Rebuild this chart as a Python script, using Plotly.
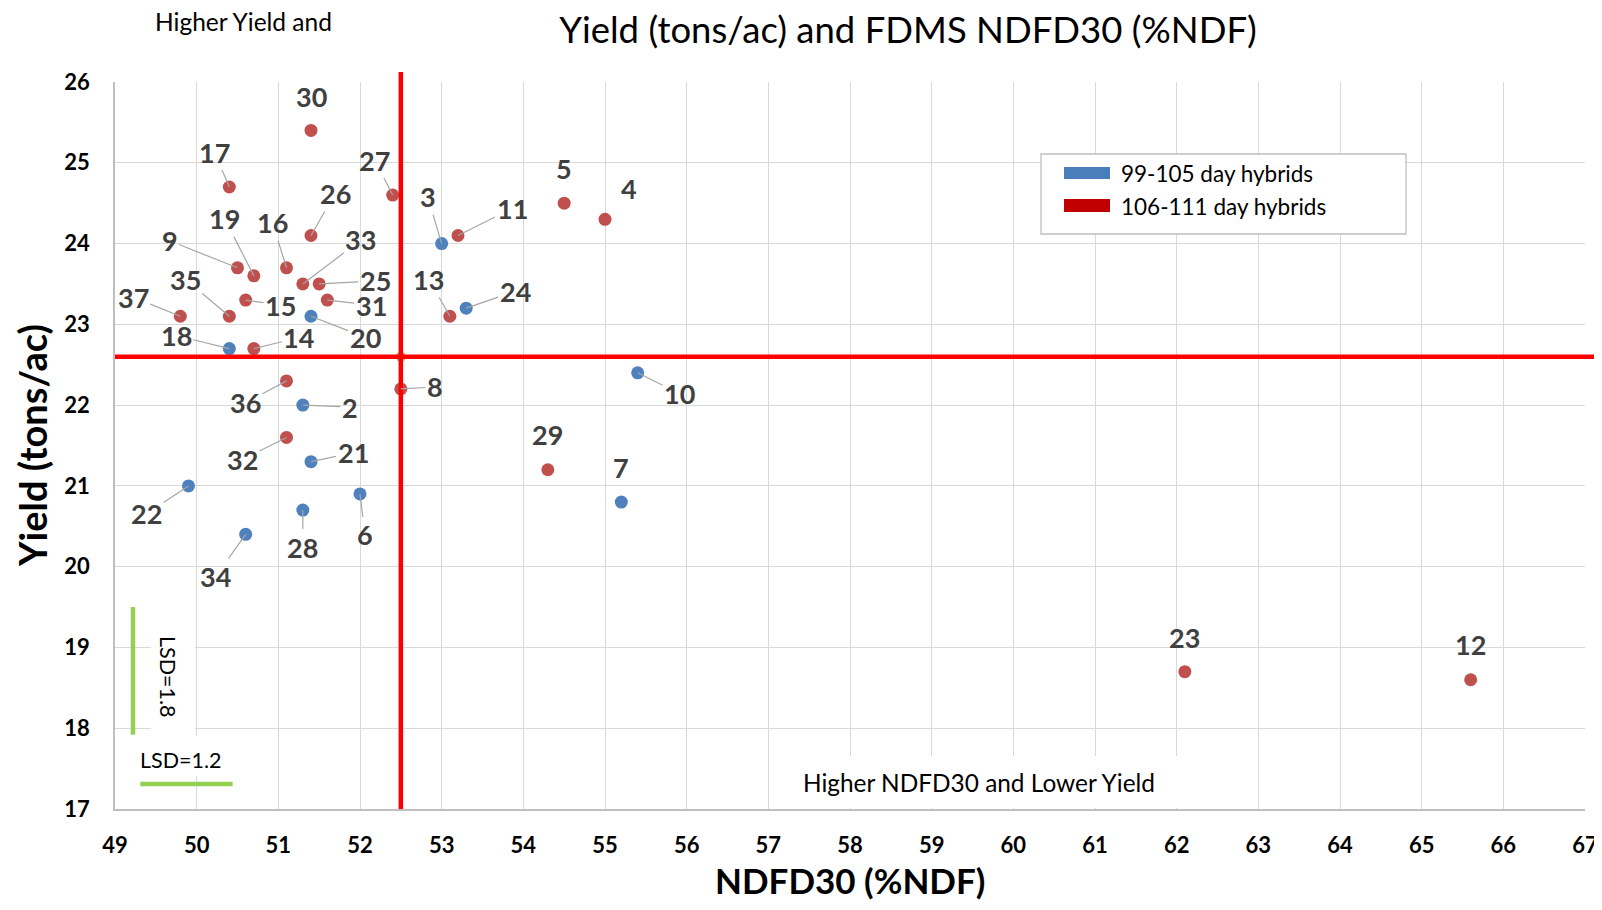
import plotly.graph_objects as go

# ---------------- data ----------------
early_ids = [3, 20, 24, 18, 2, 10, 21, 22, 6, 7, 28, 34]
early_ndfd30 = [53.0, 51.4, 53.3, 50.4, 51.3, 55.4, 51.4, 49.9, 52.0, 55.2, 51.3, 50.6]
early_yield = [24.0, 23.1, 23.2, 22.7, 22.0, 22.4, 21.3, 21.0, 20.9, 20.8, 20.7, 20.4]

late_ids = [30, 17, 27, 26, 11, 5, 4, 16, 9, 19, 33, 25, 31, 15, 35, 37, 13, 14, 36, 8, 32, 29, 23, 12]
late_ndfd30 = [51.4, 50.4, 52.4, 51.4, 53.2, 54.5, 55.0, 51.1, 50.5, 50.7, 51.3, 51.5, 51.6, 50.6,
               50.4, 49.8, 53.1, 50.7, 51.1, 52.5, 51.1, 54.3, 62.1, 65.6]
late_yield = [25.4, 24.7, 24.6, 24.1, 24.1, 24.5, 24.3, 23.7, 23.7, 23.6, 23.5, 23.5, 23.3, 23.3,
              23.1, 23.1, 23.1, 22.7, 22.3, 22.2, 21.6, 21.2, 18.7, 18.6]

early_name = "99-105 day hybrids"
late_name = "106-111 day hybrids"

mean_ndfd30 = 52.5
mean_yield = 22.6

x_ticks = list(range(49, 68))
y_ticks = list(range(17, 27))

# ---------------- styles / label placement (px offsets, leader line) ----------------
LABEL_OFFSETS = {
    30: (0, -34, False), 17: (-15, -35, True), 27: (-18, -35, True), 26: (24, -42, True),
    3: (-14, -47, True), 11: (54, -27, True), 5: (0, -35, False), 4: (24, -31, False),
    16: (-14, -45, True), 9: (-68, -27, True), 19: (-29, -57, True), 33: (58, -44, True),
    25: (56, -3, True), 31: (44, 5, True), 15: (35, 5, True), 35: (-44, -37, True),
    37: (-47, -19, True), 20: (54, 21, True), 13: (-21, -37, True), 24: (49, -17, True),
    18: (-53, -13, True), 14: (45, -11, True), 36: (-41, 22, True), 2: (47, 2, True),
    8: (34, -2, True), 10: (42, 21, True), 32: (-44, 22, True), 21: (42, -9, True),
    29: (0, -35, False), 22: (-42, 28, True), 6: (5, 41, True), 7: (0, -35, False),
    28: (0, 37, True), 34: (-30, 42, True), 23: (0, -34, False), 12: (0, -35, False),
}

OFF = 8                      # page body margin
W, H = 1602 - 2 * OFF, 910 - 2 * OFF
# plot area in screen pixels
PL, PR, PT, PB = 115, 1585, 82, 809
FONT = "Lato, 'Open Sans', sans-serif"
BLUE = "#4f81bd"
RED = "#c0504d"
LEG_BLUE = "#4a7ebb"
LEG_RED = "#c00000"
GREEN = "#92d050"
LABEL_COLOR = "#404040"


def pxx(px):
    return (px - PL) / (PR - PL)


def pxy(py):
    return (PB - py) / (PB - PT)


fig = go.Figure()

fig.add_trace(go.Scatter(
    x=[mean_ndfd30], y=[mean_yield], mode="markers", name="Mean",
    marker=dict(color="#9bbb59", size=10), showlegend=False, hoverinfo="skip"))
fig.add_trace(go.Scatter(
    x=early_ndfd30, y=early_yield, mode="markers", name=early_name, text=early_ids,
    marker=dict(color=BLUE, size=13), showlegend=False))
fig.add_trace(go.Scatter(
    x=late_ndfd30, y=late_yield, mode="markers", name=late_name, text=late_ids,
    marker=dict(color=RED, size=13), showlegend=False))

annotations = []
for ids, xs, ys in ((early_ids, early_ndfd30, early_yield), (late_ids, late_ndfd30, late_yield)):
    for hid, xv, yv in zip(ids, xs, ys):
        dx, dy, leader = LABEL_OFFSETS[hid]
        base = dict(x=xv, y=yv, xref="x", yref="y", text=str(hid),
                    font=dict(family=FONT, size=27, color=LABEL_COLOR, weight="bold"))
        if leader:
            base.update(showarrow=True, ax=dx, ay=dy, arrowhead=0, arrowwidth=1.2,
                        arrowcolor="#a6a6a6", standoff=0, startstandoff=0)
        else:
            base.update(showarrow=False, xshift=dx, yshift=-dy, xanchor="center", yanchor="middle")
        annotations.append(base)

shapes = []
# white boxes behind text
for (x0, x1, y0, y1) in ((790, 1182, 756, 808), (133, 230, 736, 776), (151, 195, 630, 732)):
    shapes.append(dict(type="rect", xref="paper", yref="paper", x0=pxx(x0), x1=pxx(x1),
                       y0=pxy(y1), y1=pxy(y0), fillcolor="white", line=dict(width=0), layer="above"))
# LSD bars
shapes.append(dict(type="line", xref="x", yref="y", x0=49.22, x1=49.22, y0=17.92, y1=19.50,
                   line=dict(color=GREEN, width=4.5), layer="above"))
shapes.append(dict(type="line", xref="x", yref="y", x0=49.31, x1=50.44, y0=17.31, y1=17.31,
                   line=dict(color=GREEN, width=4.5), layer="above"))
# mean lines
shapes.append(dict(type="line", xref="x", yref="paper", x0=mean_ndfd30, x1=mean_ndfd30,
                   y0=0, y1=1 + 10 / (PB - PT), line=dict(color="#ff0000", width=4.5), layer="above"))
shapes.append(dict(type="line", xref="paper", yref="y", x0=0, x1=1 + 10 / (PR - PL),
                   y0=mean_yield, y1=mean_yield, line=dict(color="#ff0000", width=4.5), layer="above"))
# legend
shapes.append(dict(type="rect", xref="paper", yref="paper", x0=pxx(1041), x1=pxx(1406),
                   y0=pxy(234), y1=pxy(154), fillcolor="white",
                   line=dict(color="#bfbfbf", width=1.3), layer="above"))
for color, (y0, y1) in ((LEG_BLUE, (167, 179)), (LEG_RED, (199, 212))):
    shapes.append(dict(type="rect", xref="paper", yref="paper", x0=pxx(1064), x1=pxx(1110),
                       y0=pxy(y1), y1=pxy(y0), fillcolor=color, line=dict(width=0), layer="above"))
for name, yc in ((early_name, 174), (late_name, 206)):
    annotations.append(dict(x=pxx(1119), y=pxy(yc), xref="paper", yref="paper", text=name,
                            showarrow=False, xanchor="left", yanchor="middle",
                            font=dict(family=FONT, size=22.5, color="#000000")))


def free_text(text, sx, sy, size, angle=0, bold=False):
    annotations.append(dict(x=pxx(sx), y=pxy(sy), xref="paper", yref="paper", text=text,
                            showarrow=False, xanchor="center", yanchor="middle", textangle=angle,
                            font=dict(family=FONT, size=size, color="#000000",
                                      weight="bold" if bold else "normal")))


free_text("Higher NDFD30 and Lower Yield", 979, 782, 24.4)
free_text("Higher Yield and", 243, 22, 24.5)
free_text("LSD=1.2", 181, 760, 21.5)
free_text("LSD=1.8", 168, 677, 21.5, angle=90)
free_text("NDFD30 (%NDF)", 850, 880, 35, bold=True)
free_text("Yield (tons/ac)", 32, 446, 38, angle=-90, bold=True)

axis_common = dict(showgrid=True, gridcolor="#d9d9d9", gridwidth=1.2, zeroline=False,
                   showline=True, linecolor="#bfbfbf", linewidth=1.5, automargin=False,
                   ticks="outside", tickcolor="rgba(0,0,0,0)", ticklabeloverflow="allow",
                   tickfont=dict(family=FONT, size=22, color="#000000", weight="bold"))

fig.update_layout(
    width=W, height=H,
    margin=dict(l=PL - OFF, r=W - (PR - OFF), t=PT - OFF, b=H - (PB - OFF), pad=0,
                autoexpand=False),
    plot_bgcolor="white", paper_bgcolor="white",
    title=dict(text="Yield (tons/ac) and FDMS NDFD30 (%NDF)", x=(908 - OFF) / W, xanchor="center",
               y=1 - (30 - OFF) / H, yanchor="middle", yref="container",
               font=dict(family=FONT, size=36.5, color="#000000")),
    xaxis=dict(range=[49, 67], tickvals=x_ticks, ticktext=[str(v) for v in x_ticks],
               ticklen=16, **axis_common),
    yaxis=dict(range=[17, 26], tickvals=y_ticks, ticktext=[str(v) for v in y_ticks],
               ticklen=19, **axis_common),
    showlegend=False,
    annotations=annotations,
    shapes=shapes,
)

fig.write_html("out.html")
